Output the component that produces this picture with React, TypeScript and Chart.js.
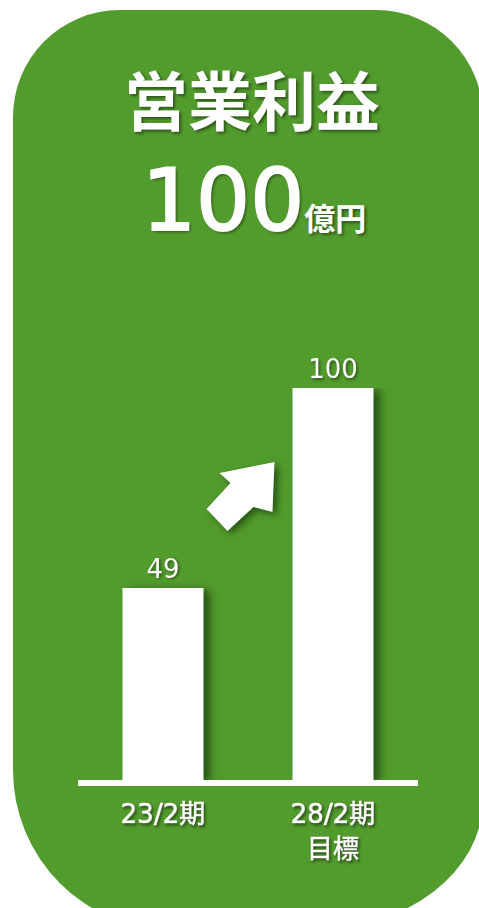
import React, { useEffect, useRef } from "react";
import { Chart, registerables } from "chart.js";

Chart.register(...registerables);

// ---- data ----
const categories: string[][] = [["23/2期"], ["28/2期", "目標"]];
const values: number[] = [49, 100];
const valueLabels: string[] = ["49", "100"];
const yMin = 0;
const yMax = 100;
const titleText = "営業利益";
const headlineValue = "100";
const headlineUnit = "億円";

// ---- style ----
const GREEN = "#529B2D";
const CJK = '"Noto Sans CJK JP", "Noto Sans", sans-serif';
const MIXED = '"DejaVu Sans", "Noto Sans CJK JP", sans-serif';
const W = 479;
const H = 908;

// decorative arrow outline, relative to an anchor between the two bars
const ARROW: [number, number][] = [
  [26.5, -43.6],
  [-28.5, -32.6],
  [-17.5, -22.6],
  [-41.5, 3.4],
  [-20.5, 25.4],
  [5.5, 1.4],
  [24.5, 6.4],
];

export default function App() {
  const ref = useRef<HTMLCanvasElement>(null);

  useEffect(() => {
    document.body.style.margin = "0";
    const canvas = ref.current;
    if (!canvas) return;

    const decoPlugin = {
      id: "deco",
      beforeDraw(chart: any) {
        const ctx = chart.ctx;
        ctx.save();
        ctx.shadowColor = "rgba(0,0,0,0.45)";
        ctx.shadowBlur = 3;
        ctx.shadowOffsetX = 1.5;
        ctx.shadowOffsetY = 1.5;
      },
      beforeDatasetsDraw(chart: any) {
        const ctx = chart.ctx;
        ctx.save();
        ctx.shadowColor = "rgba(0,30,0,0.55)";
        ctx.shadowBlur = 8;
        ctx.shadowOffsetX = 6;
        ctx.shadowOffsetY = 2;
      },
      afterDatasetsDraw(chart: any) {
        const ctx = chart.ctx;
        ctx.restore();
        const { chartArea, scales } = chart;
        const zero = scales.y.getPixelForValue(0);

        // baseline
        ctx.save();
        ctx.shadowColor = "transparent";
        ctx.fillStyle = "#ffffff";
        ctx.fillRect(chartArea.left, zero, chartArea.right - chartArea.left, 6);
        ctx.restore();

        // value labels
        const meta = chart.getDatasetMeta(0);
        ctx.save();
        ctx.fillStyle = "#ffffff";
        ctx.font = `400 26px ${MIXED}`;
        ctx.textAlign = "center";
        ctx.textBaseline = "alphabetic";
        meta.data.forEach((bar: any, i: number) => {
          ctx.fillText(valueLabels[i], bar.x, bar.y - 10);
        });
        ctx.restore();

        // arrow
        const ax = (meta.data[0].x + meta.data[1].x) / 2;
        const ay = scales.y.getPixelForValue(70);
        ctx.save();
        ctx.shadowColor = "rgba(0,30,0,0.55)";
        ctx.shadowBlur = 7;
        ctx.shadowOffsetX = 4;
        ctx.shadowOffsetY = 3;
        ctx.fillStyle = "#ffffff";
        ctx.beginPath();
        ARROW.forEach(([dx, dy], i) => {
          if (i === 0) ctx.moveTo(ax + dx, ay + dy);
          else ctx.lineTo(ax + dx, ay + dy);
        });
        ctx.closePath();
        ctx.fill();
        ctx.restore();
      },
      afterDraw(chart: any) {
        chart.ctx.restore();
      },
    };

    const chart = new Chart(canvas, {
      type: "bar",
      data: {
        labels: categories,
        datasets: [
          {
            data: values,
            backgroundColor: "#ffffff",
            borderWidth: 0,
            barPercentage: 81 / 170,
            categoryPercentage: 1,
          },
        ],
      },
      options: {
        responsive: false,
        animation: false,
        devicePixelRatio: 1,
        layout: { padding: { left: 78, right: 61, top: 388, bottom: 0 } },
        plugins: {
          legend: { display: false },
          tooltip: { enabled: false },
          title: { display: false },
        },
        scales: {
          x: {
            grid: { display: false, drawTicks: false },
            border: { display: false },
            ticks: {
              color: "#ffffff",
              font: { family: MIXED, size: 26, weight: "normal", lineHeight: 1.35 },
              textStrokeColor: "#ffffff",
              textStrokeWidth: 0.7,
              padding: 19,
              maxRotation: 0,
            },
            afterFit(scale: any) {
              scale.height = 128;
            },
          },
          y: {
            display: false,
            min: yMin,
            max: yMax,
          },
        },
      },
      plugins: [decoPlugin],
    });

    return () => chart.destroy();
  }, []);

  const shadow = "2px 2px 3px rgba(0,0,0,0.45)";

  return (
    <div
      style={{
        position: "fixed",
        left: 0,
        top: 0,
        width: W,
        height: H,
        overflow: "hidden",
        background: "#ffffff",
        fontFamily: CJK,
      }}
    >
      <div
        style={{
          position: "absolute",
          left: 13,
          top: 10,
          width: 470,
          height: 920,
          background: GREEN,
          borderRadius: "107px 107px 170px 160px / 107px 107px 130px 160px",
        }}
      />
      <div
        style={{
          position: "absolute",
          left: 0,
          top: 65,
          width: 504,
          textAlign: "center",
          color: "#ffffff",
          fontSize: 64,
          fontWeight: 700,
          lineHeight: 1,
          textShadow: shadow,
          whiteSpace: "nowrap",
        }}
      >
        {titleText}
      </div>
      <div
        style={{
          position: "absolute",
          left: 142,
          top: 158,
          display: "flex",
          alignItems: "baseline",
          color: "#ffffff",
          lineHeight: 1,
          textShadow: shadow,
          whiteSpace: "nowrap",
        }}
      >
        <span
          style={{
            fontFamily: MIXED,
            fontSize: 85,
            fontWeight: 400,
            WebkitTextStroke: "2px #ffffff",
          }}
        >
          {headlineValue}
        </span>
        <span style={{ fontFamily: CJK, fontSize: 31, fontWeight: 700, marginLeft: 0 }}>
          {headlineUnit}
        </span>
      </div>
      <canvas
        ref={ref}
        width={W}
        height={H}
        style={{ position: "absolute", left: 0, top: 0, width: W, height: H }}
      />
    </div>
  );
}
